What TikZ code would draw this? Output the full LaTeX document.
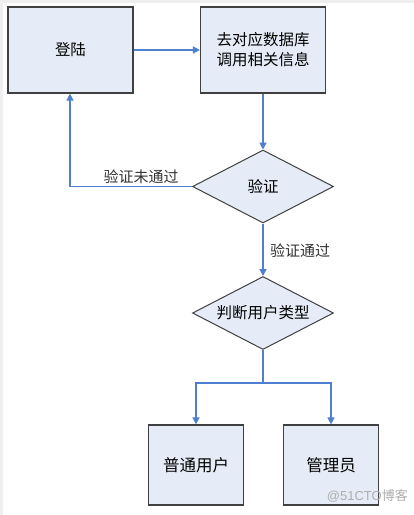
\documentclass[tikz,border=0pt]{standalone}
\usepackage{fontspec}
\setmainfont{Noto Sans CJK SC}
\newfontfamily\wmfont{Liberation Sans}
\usetikzlibrary{shapes.geometric,arrows.meta}
\definecolor{boxfill}{HTML}{E6ECF7}
\definecolor{boxline}{HTML}{404040}
\definecolor{arrowc}{HTML}{4F7FD0}
\definecolor{framec}{HTML}{EFEFEF}
\tikzset{
  procbox/.style={draw=boxline, line width=1.2pt, fill=boxfill, minimum width=125pt, minimum height=86pt, inner sep=0pt, align=center, font=\fontsize{15.5}{20}\selectfont},
  smallbox/.style={draw=boxline, line width=1.2pt, fill=boxfill, minimum width=95pt, minimum height=80pt, inner sep=0pt, font=\fontsize{16.5}{19}\selectfont},
  decision/.style={draw=boxline, line width=1pt, fill=boxfill, diamond, aspect=1.93, minimum width=141pt, minimum height=73pt, inner sep=0pt, font=\fontsize{15.5}{17}\selectfont},
  flow/.style={draw=arrowc, line width=1.5pt, -{Triangle[length=7pt,width=7pt]}},
  flowline/.style={draw=arrowc, line width=1.5pt},
  lbl/.style={font=\fontsize{15}{17}\selectfont, text=black!80, inner sep=0pt}
}
\begin{document}
\begin{tikzpicture}[x=1pt,y=-1pt]
\useasboundingbox (0,0) rectangle (414,515);
\fill[white] (0,0) rectangle (414,515);
\fill[framec] (0,0) rectangle (3,515);
\fill[framec] (0,0) rectangle (414,3);
\node[procbox] (login) at (70.5,50) {登陆};
\node[procbox] (db) at (263,50) {去对应数据库\\调用相关信息};
\node[decision] (verify) at (263,186.5) {验证};
\node[decision] (type) at (263,313) {判断用户类型};
\node[smallbox] (normal) at (196,465) {普通用户};
\node[smallbox] (admin) at (331,465) {管理员};
\coordinate (split) at (263,383);
\coordinate (loopc) at (70,186.5);
\draw[flow] (login.east) -- (db.west);
\draw[flow] (db.south) -- (verify.north);
\draw[flow] (verify.west) -- (loopc) -- (login.south -| loopc);
\node[lbl, anchor=south] at (141,184) {验证未通过};
\draw[flow] (verify.south) -- (type.north);
\node[lbl, anchor=west] at (270,251) {验证通过};
\draw[flowline] (type.south) -- (split);
\draw[flow] (split) -| (normal.north);
\draw[flow] (split) -| (admin.north);
\node[font=\wmfont\fontsize{13}{15}\selectfont, text=black!32, anchor=east, inner sep=0pt] (wm) at (408,496) {@51CTO\fontspec{Noto Sans CJK SC}博客};
\end{tikzpicture}
\end{document}
